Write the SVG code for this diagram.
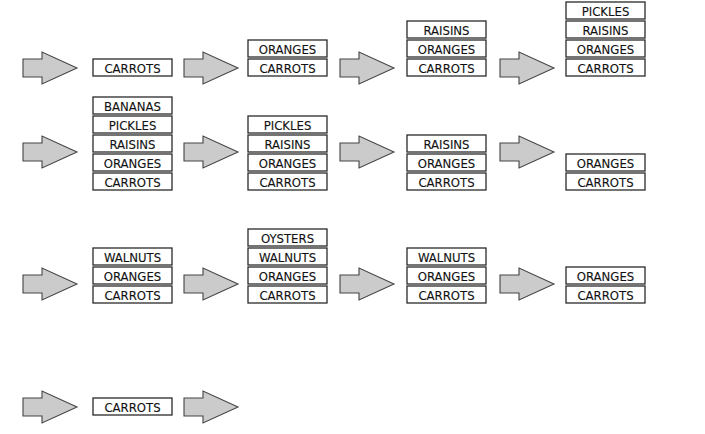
<svg xmlns="http://www.w3.org/2000/svg" xmlns:xlink="http://www.w3.org/1999/xlink" width="705" height="434" viewBox="0 0 705 434">
<style>
.b{fill:#fff;stroke:#2a2a2a;stroke-width:1.3}
.t{font-family:"DejaVu Sans Condensed","DejaVu Sans",sans-serif;font-size:13px;fill:#111;stroke:#111;stroke-width:0.12;text-anchor:middle}
.a{fill:#cbcbcb;stroke:#444;stroke-width:1.1}
</style>
<defs>
<path id="arr" class="a" d="M0,-9 H19 V-16 L54,0 L19,16 V9 H0 Z"/>
</defs>
<rect width="705" height="434" fill="#fff"/>
<g id="connectors">
<use xlink:href="#arr" x="23" y="68"/>
<use xlink:href="#arr" x="184" y="68"/>
<use xlink:href="#arr" x="340" y="68"/>
<use xlink:href="#arr" x="500" y="68"/>
<use xlink:href="#arr" x="23" y="152"/>
<use xlink:href="#arr" x="184" y="152"/>
<use xlink:href="#arr" x="340" y="152"/>
<use xlink:href="#arr" x="500" y="152"/>
<use xlink:href="#arr" x="23" y="284"/>
<use xlink:href="#arr" x="184" y="284"/>
<use xlink:href="#arr" x="340" y="284"/>
<use xlink:href="#arr" x="500" y="284"/>
<use xlink:href="#arr" x="23" y="407"/>
<use xlink:href="#arr" x="184" y="407"/>
</g>
<g id="r1c1">
<rect class="b" x="93" y="59" width="79" height="17"/><text class="t" x="132.5" y="72.5">CARROTS</text>
</g>
<g id="r1c2">
<rect class="b" x="248" y="40" width="79" height="17"/><text class="t" x="287.5" y="53.5">ORANGES</text>
<rect class="b" x="248" y="59" width="79" height="17"/><text class="t" x="287.5" y="72.5">CARROTS</text>
</g>
<g id="r1c3">
<rect class="b" x="407" y="21" width="79" height="17"/><text class="t" x="446.5" y="34.5">RAISINS</text>
<rect class="b" x="407" y="40" width="79" height="17"/><text class="t" x="446.5" y="53.5">ORANGES</text>
<rect class="b" x="407" y="59" width="79" height="17"/><text class="t" x="446.5" y="72.5">CARROTS</text>
</g>
<g id="r1c4">
<rect class="b" x="566" y="2" width="79" height="17"/><text class="t" x="605.5" y="15.5">PICKLES</text>
<rect class="b" x="566" y="21" width="79" height="17"/><text class="t" x="605.5" y="34.5">RAISINS</text>
<rect class="b" x="566" y="40" width="79" height="17"/><text class="t" x="605.5" y="53.5">ORANGES</text>
<rect class="b" x="566" y="59" width="79" height="17"/><text class="t" x="605.5" y="72.5">CARROTS</text>
</g>
<g id="r2c1">
<rect class="b" x="93" y="97" width="79" height="17"/><text class="t" x="132.5" y="110.5">BANANAS</text>
<rect class="b" x="93" y="116" width="79" height="17"/><text class="t" x="132.5" y="129.5">PICKLES</text>
<rect class="b" x="93" y="135" width="79" height="17"/><text class="t" x="132.5" y="148.5">RAISINS</text>
<rect class="b" x="93" y="154" width="79" height="17"/><text class="t" x="132.5" y="167.5">ORANGES</text>
<rect class="b" x="93" y="173" width="79" height="17"/><text class="t" x="132.5" y="186.5">CARROTS</text>
</g>
<g id="r2c2">
<rect class="b" x="248" y="116" width="79" height="17"/><text class="t" x="287.5" y="129.5">PICKLES</text>
<rect class="b" x="248" y="135" width="79" height="17"/><text class="t" x="287.5" y="148.5">RAISINS</text>
<rect class="b" x="248" y="154" width="79" height="17"/><text class="t" x="287.5" y="167.5">ORANGES</text>
<rect class="b" x="248" y="173" width="79" height="17"/><text class="t" x="287.5" y="186.5">CARROTS</text>
</g>
<g id="r2c3">
<rect class="b" x="407" y="135" width="79" height="17"/><text class="t" x="446.5" y="148.5">RAISINS</text>
<rect class="b" x="407" y="154" width="79" height="17"/><text class="t" x="446.5" y="167.5">ORANGES</text>
<rect class="b" x="407" y="173" width="79" height="17"/><text class="t" x="446.5" y="186.5">CARROTS</text>
</g>
<g id="r2c4">
<rect class="b" x="566" y="154" width="79" height="17"/><text class="t" x="605.5" y="167.5">ORANGES</text>
<rect class="b" x="566" y="173" width="79" height="17"/><text class="t" x="605.5" y="186.5">CARROTS</text>
</g>
<g id="r3c1">
<rect class="b" x="93" y="248" width="79" height="17"/><text class="t" x="132.5" y="261.5">WALNUTS</text>
<rect class="b" x="93" y="267" width="79" height="17"/><text class="t" x="132.5" y="280.5">ORANGES</text>
<rect class="b" x="93" y="286" width="79" height="17"/><text class="t" x="132.5" y="299.5">CARROTS</text>
</g>
<g id="r3c2">
<rect class="b" x="248" y="229" width="79" height="17"/><text class="t" x="287.5" y="242.5">OYSTERS</text>
<rect class="b" x="248" y="248" width="79" height="17"/><text class="t" x="287.5" y="261.5">WALNUTS</text>
<rect class="b" x="248" y="267" width="79" height="17"/><text class="t" x="287.5" y="280.5">ORANGES</text>
<rect class="b" x="248" y="286" width="79" height="17"/><text class="t" x="287.5" y="299.5">CARROTS</text>
</g>
<g id="r3c3">
<rect class="b" x="407" y="248" width="79" height="17"/><text class="t" x="446.5" y="261.5">WALNUTS</text>
<rect class="b" x="407" y="267" width="79" height="17"/><text class="t" x="446.5" y="280.5">ORANGES</text>
<rect class="b" x="407" y="286" width="79" height="17"/><text class="t" x="446.5" y="299.5">CARROTS</text>
</g>
<g id="r3c4">
<rect class="b" x="566" y="267" width="79" height="17"/><text class="t" x="605.5" y="280.5">ORANGES</text>
<rect class="b" x="566" y="286" width="79" height="17"/><text class="t" x="605.5" y="299.5">CARROTS</text>
</g>
<g id="r4c1">
<rect class="b" x="93" y="398" width="79" height="17"/><text class="t" x="132.5" y="411.5">CARROTS</text>
</g>
</svg>
